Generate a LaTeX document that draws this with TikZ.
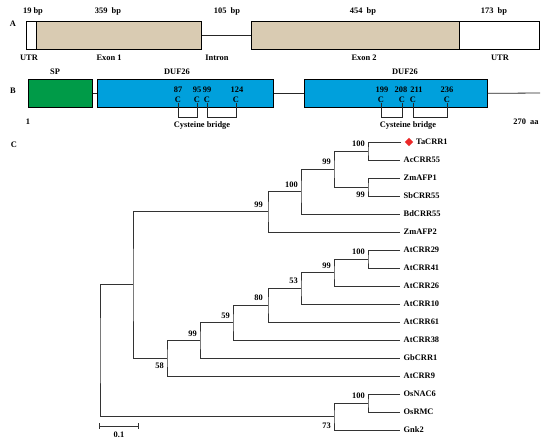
\documentclass[tikz,border=0pt]{standalone}
\usepackage{fontspec}
\setmainfont{Liberation Serif}
\usetikzlibrary{shapes.geometric}
\definecolor{exon}{RGB}{217,203,178}
\definecolor{dufblue}{RGB}{0,160,220}
\definecolor{spgreen}{RGB}{0,155,72}
\definecolor{markred}{RGB}{235,40,40}
\newcommand{\figfont}{\bfseries\fontsize{8.4}{10}\selectfont}
\tikzset{
 every node/.style={font=\figfont, inner sep=0pt},
 seg/.style={draw=black, line width=0.7pt, anchor=north west, inner sep=0pt, minimum height=28pt},
 leaf/.style={anchor=west, inner xsep=3.5pt},
 boot/.style={anchor=east},
 branch/.style={draw=black!80, line width=0.9pt},
 lnk/.style={draw=black!85, line width=0.8pt},
}
\begin{document}
\begin{tikzpicture}[x=1pt,y=-1pt]
\useasboundingbox (0,0) rectangle (550,442);
\fill[white] (0,0) rectangle (550,442);
% ---------- Panel A ----------
\node (pA) at (13,24) {A};
\node[seg, minimum width=10pt] (utrA) at (26,21) {};
\node[seg, fill=exon, minimum width=165pt] (ex1) at (36,21) {};
\node[seg, fill=exon, minimum width=208pt] (ex2) at (251,21) {};
\node[seg, minimum width=80pt] (utrB) at (459,21) {};
\draw[lnk] (ex1.east) -- (ex2.west);
\node (l19) at (33,11) {19 bp};
\node (l359) at (108,11) {359~~bp};
\node (l105) at (227,11) {105~~bp};
\node (l454) at (363,11) {454~~bp};
\node (l173) at (494,11) {173~~bp};
\node (tUTR1) at (29,58) {UTR};
\node (tEx1) at (109,58) {Exon 1};
\node (tIntr) at (217,58) {Intron};
\node (tEx2) at (364,58) {Exon 2};
\node (tUTR2) at (500,58) {UTR};
% ---------- Panel B ----------
\node (pB) at (13,91) {B};
\node (tSP) at (55,72) {SP};
\node (tD1) at (177,72) {DUF26};
\node (tD2) at (405,72) {DUF26};
\node[seg, fill=spgreen, minimum width=64pt] (sp) at (28,79) {};
\node[seg, fill=dufblue, minimum width=176pt] (duf1) at (97,79) {};
\node[seg, fill=dufblue, minimum width=183pt] (duf2) at (304,79) {};
\coordinate (cend) at (540,93);
\draw[lnk] (sp.east) -- (duf1.west);
\draw[lnk] (duf1.east) -- (duf2.west);
\draw[lnk] (duf2.east) -- (cend);
\coordinate (bl) at (0,117);
\foreach \nm/\xx/\nx in {87/178/178, 95/197/197, 99/207/207, 124/236/237, 199/381/382, 208/402/401, 211/413/416.5, 236/447/447}{
  \node (c\nm) at (\xx,99.5) {C};
  \node (n\nm) at (\nx,90) {\nm};
}
\draw[lnk] (c87.south) -- (c87.south |- bl) -| (c95.south);
\draw[lnk] (c99.south) -- (c99.south |- bl) -| (c124.south);
\draw[lnk] (c199.south) -- (c199.south |- bl) -| (c208.south);
\draw[lnk] (c211.south) -- (c211.south |- bl) -| (c236.south);
\node (cb1) at (202,126) {Cysteine bridge};
\node (cb2) at (408,126) {Cysteine bridge};
\node (t1) at (28,122) {1};
\node (t270) at (526,122) {270~~aa};
% ---------- Panel C ----------
\node (pC) at (14,145) {C};
\coordinate (TaTip) at (401,142);
\node[diamond, fill=markred, minimum width=8.5pt, minimum height=8.5pt, inner sep=0pt] (dia) at (409,142) {};
\node[anchor=west] (TaCRR1) at (416,142) {TaCRR1};
\node[leaf] (AcCRR55) at (400,160) {AcCRR55};
\node[leaf] (ZmAFP1) at (400,178) {ZmAFP1};
\node[leaf] (SbCRR55) at (400,196) {SbCRR55};
\node[leaf] (BdCRR55) at (400,214) {BdCRR55};
\node[leaf] (ZmAFP2) at (400,232) {ZmAFP2};
\node[leaf] (AtCRR29) at (400,250) {AtCRR29};
\node[leaf] (AtCRR41) at (400,268) {AtCRR41};
\node[leaf] (AtCRR26) at (400,286) {AtCRR26};
\node[leaf] (AtCRR10) at (400,304) {AtCRR10};
\node[leaf] (AtCRR61) at (400,322) {AtCRR61};
\node[leaf] (AtCRR38) at (400,340) {AtCRR38};
\node[leaf] (GbCRR1) at (400,358) {GbCRR1};
\node[leaf] (AtCRR9) at (400,376) {AtCRR9};
\node[leaf] (OsNAC6) at (400,394) {OsNAC6};
\node[leaf] (OsRMC) at (400,412) {OsRMC};
\node[leaf] (Gnk2) at (400,430) {Gnk2};
% internal nodes
\coordinate (n100a) at (368,151);
\coordinate (n99b) at (368,187);
\coordinate (n99c) at (334,169);
\coordinate (n100d) at (301,191.5);
\coordinate (n99e) at (268,211.75);
\coordinate (n100f) at (368,259);
\coordinate (n99g) at (334,272.5);
\coordinate (n53) at (301,288.25);
\coordinate (n80) at (268,305.1);
\coordinate (n59) at (233,322.6);
\coordinate (n99h) at (200,340.3);
\coordinate (n58) at (167,358.1);
\coordinate (nM) at (133,284.9);
\coordinate (n100i) at (368,403);
\coordinate (n73) at (334,416.5);
\coordinate (root) at (100,350.7);
% branches
\draw[branch] (TaTip) -| (n100a) |- (AcCRR55.west);
\draw[branch] (ZmAFP1.west) -| (n99b) |- (SbCRR55.west);
\draw[branch] (n100a) -| (n99c) |- (n99b);
\draw[branch] (n99c) -| (n100d) |- (BdCRR55.west);
\draw[branch] (n100d) -| (n99e) |- (ZmAFP2.west);
\draw[branch] (AtCRR29.west) -| (n100f) |- (AtCRR41.west);
\draw[branch] (n100f) -| (n99g) |- (AtCRR26.west);
\draw[branch] (n99g) -| (n53) |- (AtCRR10.west);
\draw[branch] (n53) -| (n80) |- (AtCRR61.west);
\draw[branch] (n80) -| (n59) |- (AtCRR38.west);
\draw[branch] (n59) -| (n99h) |- (GbCRR1.west);
\draw[branch] (n99h) -| (n58) |- (AtCRR9.west);
\draw[branch] (n99e) -| (nM) |- (n58);
\draw[branch] (OsNAC6.west) -| (n100i) |- (OsRMC.west);
\draw[branch] (n100i) -| (n73) |- (Gnk2.west);
\draw[branch] (nM) -| (root) |- (n73);
% bootstrap values
\node[boot] (b100a) at (365,144) {100};
\node[boot] (b99b) at (365,195) {99};
\node[boot] (b99c) at (331,162) {99};
\node[boot] (b100d) at (298,184.5) {100};
\node[boot] (b99e) at (263,204.75) {99};
\node[boot] (b100f) at (365,252) {100};
\node[boot] (b99g) at (331,265.5) {99};
\node[boot] (b53) at (298,281.25) {53};
\node[boot] (b80) at (263,298) {80};
\node[boot] (b59) at (230,315.6) {59};
\node[boot] (b99h) at (197,333.3) {99};
\node[boot] (b58) at (164,366) {58};
\node[boot] (b100i) at (365,396) {100};
\node[boot] (b73) at (331,426) {73};
% scale bar
\coordinate (s0) at (99,426);
\coordinate (s1) at (138,426);
\draw[branch] (s0) -- (s1);
\draw[branch] ([yshift=3pt]s0) -- ([yshift=-3pt]s0);
\draw[branch] ([yshift=3pt]s1) -- ([yshift=-3pt]s1);
\node (sc) at (119,434.5) {0.1};
\end{tikzpicture}
\end{document}
